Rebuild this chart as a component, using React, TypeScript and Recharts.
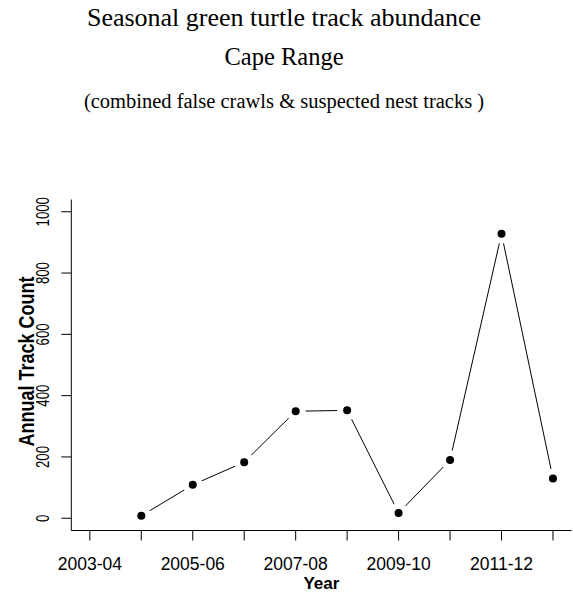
import { LineChart, Line, XAxis, YAxis } from 'recharts';

const seasons = [
  '2003-04', '2004-05', '2005-06', '2006-07', '2007-08',
  '2008-09', '2009-10', '2010-11', '2011-12', '2012-13',
];
const trackCounts: (number | null)[] = [null, 8, 109, 183, 349, 352, 17, 190, 928, 130];
const yTicks = [0, 200, 400, 600, 800, 1000];
const titleLines = [
  'Seasonal green turtle track abundance',
  'Cape Range',
  '(combined false crawls & suspected nest tracks )',
];

const data = seasons.map((season, i) => ({ idx: i, season, count: trackCounts[i] }));

const serif = '"Liberation Serif", "Times New Roman", serif';
const sans = '"Liberation Sans", Arial, sans-serif';

// R type="b": filled dot with a gap cut out of the line around it
const GapDot = (props: any) => {
  const { cx, cy, value, index } = props;
  if (value == null || cx == null || cy == null) return <g key={`d-${index}`} />;
  return (
    <g key={`d-${index}`}>
      <circle cx={cx} cy={cy} r={10} fill="#fff" />
      <circle cx={cx} cy={cy} r={4} fill="#000" />
    </g>
  );
};

const XTick = (props: any) => {
  const { x, y, payload } = props;
  const i = payload.value as number;
  // R drops every other label because they would overlap
  if (i % 2 !== 0) return <g />;
  return (
    <text x={x} y={y} dy="0.71em" textAnchor="middle" fontFamily={sans} fontSize={17.5} fill="#000">
      {seasons[i]}
    </text>
  );
};

// the source image is squashed vertically, so the rotated labels are narrow
const YTick = (props: any) => {
  const { x, y, payload } = props;
  const label = String(payload.value);
  return (
    <text
      x={x}
      y={y}
      transform={`rotate(-90, ${x}, ${y})`}
      textAnchor="middle"
      fontFamily={sans}
      fontSize={18}
      textLength={label.length * 7.35}
      lengthAdjust="spacingAndGlyphs"
      fill="#000"
    >
      {label}
    </text>
  );
};

const titleStyle = (top: number, size: number): React.CSSProperties => ({
  position: 'absolute',
  top,
  left: 0,
  width: 568,
  textAlign: 'center',
  fontFamily: serif,
  fontSize: size,
  lineHeight: `${size}px`,
  color: '#000',
  whiteSpace: 'nowrap',
});

export default function App() {
  return (
    <div style={{ position: 'absolute', left: 0, top: 0, width: 573, height: 592, background: '#fff', overflow: 'hidden' }}>
      <div style={titleStyle(5, 26)}>{titleLines[0]}</div>
      <div style={titleStyle(45, 24.5)}>{titleLines[1]}</div>
      <div style={titleStyle(91, 20.5)}>{titleLines[2]}</div>
      <div style={{ position: 'absolute', left: 0, top: 0 }}>
        <LineChart width={573} height={592} data={data} margin={{ top: 199.5, right: 1.5, bottom: 31.5, left: 21.3 }}>
          <XAxis
            dataKey="idx"
            type="number"
            domain={[-0.36, 9.36]}
            ticks={seasons.map((_, i) => i)}
            interval={0}
            allowDataOverflow
            height={30}
            tickSize={10}
            tickMargin={17}
            stroke="#000"
            tick={<XTick />}
            label={({ viewBox }: any) => (
              <text
                x={viewBox.x + viewBox.width / 2}
                y={viewBox.y + 58.5}
                textAnchor="middle"
                fontFamily={sans}
                fontWeight="bold"
                fontSize={17}
                fill="#000"
              >
                Year
              </text>
            )}
          />
          <YAxis
            type="number"
            domain={[-40, 1040]}
            ticks={yTicks}
            interval={0}
            allowDataOverflow
            width={50}
            tickSize={10}
            tickMargin={12}
            stroke="#000"
            tick={<YTick />}
            label={({ viewBox }: any) => {
              const cx = 33.5;
              const cy = viewBox.y + viewBox.height / 2 - 3.5;
              return (
                <text
                  x={cx}
                  y={cy}
                  transform={`rotate(-90, ${cx}, ${cy})`}
                  textAnchor="middle"
                  fontFamily={sans}
                  fontWeight="bold"
                  fontSize={22}
                  textLength={170}
                  lengthAdjust="spacingAndGlyphs"
                  fill="#000"
                >
                  Annual Track Count
                </text>
              );
            }}
          />
          <Line
            dataKey="count"
            stroke="#000"
            strokeWidth={1}
            dot={GapDot}
            activeDot={false}
            connectNulls={false}
            isAnimationActive={false}
          />
        </LineChart>
      </div>
    </div>
  );
}
